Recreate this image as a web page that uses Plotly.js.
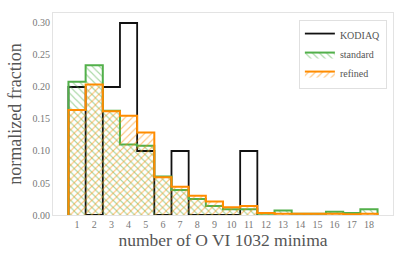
<!DOCTYPE html>
<html>
<head>
<meta charset="utf-8">
<script src="https://cdn.plot.ly/plotly-3.0.1.min.js"></script>
<style>html,body{margin:0;padding:0;background:#fff;}#chart{width:407px;height:259px;}</style>
</head>
<body>
<div id="chart"></div>
<script>
// Bin centres: number of O VI 1032 minima
const bins = [1,2,3,4,5,6,7,8,9,10,11,12,13,14,15,16,17,18];
const tickLabels = ["1","2","3","4","5","6","7","8","9","10","11","12","13","14","15","16","17","18"];
const kodiaqBins = [1,2,3,4,5,6,7,8,9,10,11];
const kodiaq = [0.20,0.00,0.20,0.30,0.10,0.00,0.10,0.00,0.00,0.00,0.10];
const standard = [0.208,0.234,0.163,0.110,0.108,0.060,0.039,0.025,0.014,0.009,0.009,0.002,0.007,0.002,0.002,0.005,0.003,0.009];
const refined = [0.164,0.204,0.162,0.155,0.129,0.059,0.044,0.030,0.021,0.012,0.014,0.003,0.002,0.002,0.002,0.002,0.001,0.002];
const yTicks = [0,0.05,0.10,0.15,0.20,0.25,0.30];

// Build step outline (histogram edges) from bin centres, unit-width bins
function stepXY(centres, vals){
  const x=[centres[0]-0.5], y=[0];
  for(let i=0;i<centres.length;i++){ x.push(centres[i]-0.5); y.push(vals[i]); }
  x.push(centres[centres.length-1]+0.5); y.push(0);
  return {x,y};
}
const k = stepXY(kodiaqBins,kodiaq), s = stepXY(bins,standard), r = stepXY(bins,refined);
const serif = '"Liberation Serif", "DejaVu Serif", serif';

const traces = [
  {type:'scatter',mode:'lines',name:'KODIAQ',x:k.x,y:k.y,line:{shape:'hv',color:'#111',width:1.8},
   fill:'tozeroy',fillcolor:'rgba(0,0,0,0)'},
  {type:'scatter',mode:'lines',name:'standard',x:s.x,y:s.y,line:{shape:'hv',color:'#52b04a',width:2},
   fill:'tozeroy',fillcolor:'rgba(0,0,0,0)',
   fillpattern:{shape:'\\',fgcolor:'rgba(82,176,74,0.5)',bgcolor:'rgba(0,0,0,0)',size:5,solidity:0.22,fillmode:'replace'}},
  {type:'scatter',mode:'lines',name:'refined',x:r.x,y:r.y,line:{shape:'hv',color:'#ff8c00',width:2},
   fill:'tozeroy',fillcolor:'rgba(0,0,0,0)',
   fillpattern:{shape:'/',fgcolor:'rgba(255,140,0,0.5)',bgcolor:'rgba(0,0,0,0)',size:5,solidity:0.22,fillmode:'replace'}}
];

const layout = {
  width:407,height:259,
  margin:{l:53,r:14,t:13,b:44},
  paper_bgcolor:'#fff',plot_bgcolor:'#fff',
  font:{family:serif,color:'#666'},
  showlegend:true,
  legend:{x:0.982,xanchor:'right',y:0.965,yanchor:'top',bgcolor:'#fff',bordercolor:'#e0e0e0',borderwidth:1,
          font:{family:serif,size:10,color:'#555'},itemwidth:30,tracegroupgap:0},
  xaxis:{range:[-0.4,19.4],tickmode:'array',tickvals:bins,ticktext:tickLabels,showgrid:false,zeroline:false,
         showline:true,mirror:true,linecolor:'#e3e3e3',linewidth:1,ticks:'',
         tickfont:{family:serif,size:10,color:'#777'},
         title:{text:'number of O VI 1032 minima',font:{family:serif,size:17.5,color:'#555'},standoff:0}},
  yaxis:{range:[0,0.3156],tickmode:'array',tickvals:yTicks,tickformat:'.2f',showgrid:false,zeroline:false,
         showline:true,mirror:true,linecolor:'#e3e3e3',linewidth:1,ticks:'',
         tickfont:{family:serif,size:10,color:'#777'},
         title:{text:'normalized fraction',font:{family:serif,size:18,color:'#555'},standoff:6}}
};
Plotly.newPlot('chart',traces,layout,{displayModeBar:false,staticPlot:true});
</script>
</body>
</html>
